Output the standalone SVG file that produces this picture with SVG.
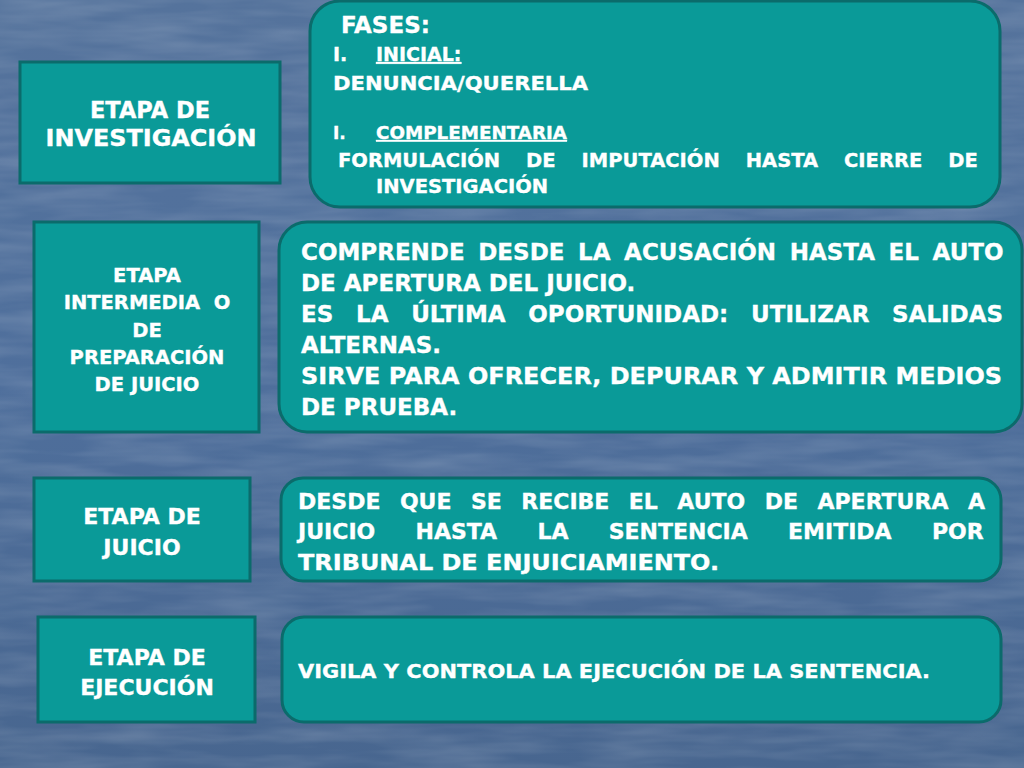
<svg xmlns="http://www.w3.org/2000/svg" width="1024" height="768" viewBox="0 0 1024 768">
<defs>
<linearGradient id="bg" x1="0" y1="0" x2="0" y2="1">
<stop offset="0" stop-color="#55739c"/>
<stop offset="0.5" stop-color="#4f6f9c"/>
<stop offset="1" stop-color="#48668f"/>
</linearGradient>
<filter id="tex" x="0" y="0" width="100%" height="100%">
<feTurbulence type="fractalNoise" baseFrequency="0.01 0.07" numOctaves="3" seed="4" result="n"/>
<feColorMatrix type="matrix" values="0 0 0 0 1  0 0 0 0 1  0 0 0 0 1  0 0 0 -1.6 1.1" in="n"/>
</filter>
<style>
.box{fill:#0a9a98;stroke:#0b6b6b;stroke-width:3}
.t{font-family:"DejaVu Sans","Liberation Sans",sans-serif;font-weight:bold;fill:#ffffff;stroke:#ffffff;stroke-width:0.35}
.c{text-anchor:middle}
.u{text-decoration:underline}
</style>
</defs>
<rect x="0" y="0" width="1024" height="768" fill="url(#bg)"/>
<rect x="0" y="0" width="1024" height="768" filter="url(#tex)" opacity="0.14"/>

<g id="etapa-investigacion">
<rect class="box" x="20" y="62" width="260" height="121"/>
<text class="t c" font-size="22.5" x="150" y="118">ETAPA DE</text>
<text class="t c" font-size="22.5" x="151" y="146" textLength="211" lengthAdjust="spacingAndGlyphs">INVESTIGACIÓN</text>
</g>

<g id="fases">
<rect class="box" x="310" y="1" width="690" height="206" rx="30"/>
<text class="t" font-size="23" x="341" y="33">FASES:</text>
<text class="t" font-size="19" x="333" y="61">I.</text>
<text class="t u" font-size="19" x="376" y="61">INICIAL:</text>
<text class="t" font-size="19" x="333" y="90" textLength="255" lengthAdjust="spacingAndGlyphs">DENUNCIA/QUERELLA</text>
<text class="t" font-size="17" x="333" y="139">I.</text>
<text class="t u" font-size="17" x="376" y="139" textLength="191" lengthAdjust="spacingAndGlyphs">COMPLEMENTARIA</text>
<text class="t" font-size="19.5" x="338" y="167" word-spacing="19.2">FORMULACIÓN DE IMPUTACIÓN HASTA CIERRE DE</text>
<text class="t" font-size="19.5" x="376" y="193">INVESTIGACIÓN</text>
</g>

<g id="etapa-intermedia">
<rect class="box" x="34" y="222" width="225" height="210"/>
<text class="t c" font-size="19.5" x="147" y="282">ETAPA</text>
<text class="t c" font-size="19.5" x="147" y="309" xml:space="preserve">INTERMEDIA  O</text>
<text class="t c" font-size="19.5" x="147" y="337">DE</text>
<text class="t c" font-size="19.5" x="147" y="364">PREPARACIÓN</text>
<text class="t c" font-size="19.5" x="147" y="391">DE JUICIO</text>
</g>

<g id="intermedia-desc">
<rect class="box" x="279" y="222" width="743" height="210" rx="28"/>
<text class="t" font-size="23" x="301" y="260" word-spacing="5.6">COMPRENDE DESDE LA ACUSACIÓN HASTA EL AUTO</text>
<text class="t" font-size="23" x="301" y="291">DE APERTURA DEL JUICIO.</text>
<text class="t" font-size="23" x="301" y="322" word-spacing="14.7">ES LA ÚLTIMA OPORTUNIDAD: UTILIZAR SALIDAS</text>
<text class="t" font-size="23" x="301" y="353">ALTERNAS.</text>
<text class="t" font-size="23" x="301" y="384" textLength="701" lengthAdjust="spacingAndGlyphs">SIRVE PARA OFRECER, DEPURAR Y ADMITIR MEDIOS</text>
<text class="t" font-size="23" x="301" y="415">DE PRUEBA.</text>
</g>

<g id="etapa-juicio">
<rect class="box" x="34" y="478" width="216" height="103"/>
<text class="t c" font-size="22" x="142" y="524">ETAPA DE</text>
<text class="t c" font-size="22" x="142" y="555">JUICIO</text>
</g>

<g id="juicio-desc">
<rect class="box" x="281" y="478" width="720" height="103" rx="22"/>
<text class="t" font-size="22" x="298" y="509" word-spacing="11.8">DESDE QUE SE RECIBE EL AUTO DE APERTURA A</text>
<text class="t" font-size="22" x="298" y="539" word-spacing="32.6">JUICIO HASTA LA SENTENCIA EMITIDA POR</text>
<text class="t" font-size="22" x="298" y="570" textLength="421" lengthAdjust="spacingAndGlyphs">TRIBUNAL DE ENJUICIAMIENTO.</text>
</g>

<g id="etapa-ejecucion">
<rect class="box" x="38" y="617" width="217" height="105"/>
<text class="t c" font-size="22" x="147" y="665">ETAPA DE</text>
<text class="t c" font-size="22" x="147" y="695">EJECUCIÓN</text>
</g>

<g id="ejecucion-desc">
<rect class="box" x="282" y="617" width="719" height="105" rx="22"/>
<text class="t" font-size="20" x="298" y="678" textLength="632" lengthAdjust="spacingAndGlyphs">VIGILA Y CONTROLA LA EJECUCIÓN DE LA SENTENCIA.</text>
</g>

<g id="connectors"/>
</svg>
